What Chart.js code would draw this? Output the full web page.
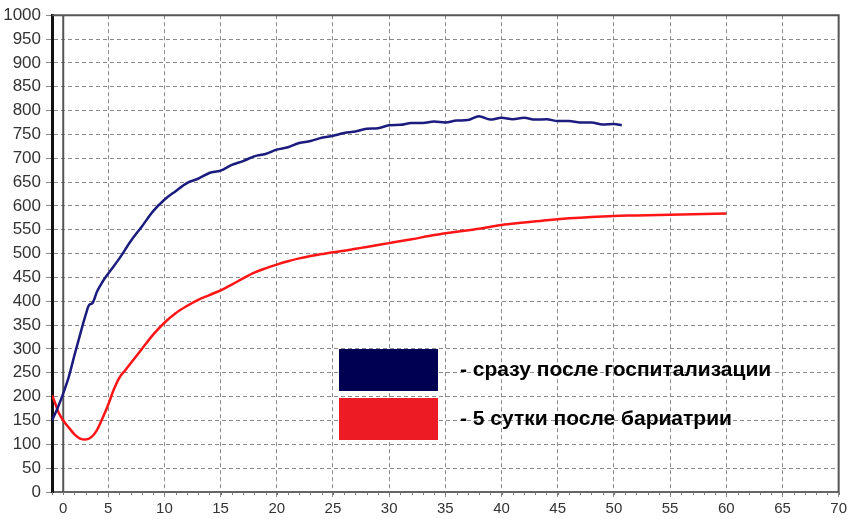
<!DOCTYPE html>
<html>
<head>
<meta charset="utf-8">
<script src="https://cdn.jsdelivr.net/npm/chart.js@4.4.1/dist/chart.umd.min.js"></script>
<style>
  html, body { margin: 0; padding: 0; background: #fff; }
  #wrap { width: 850px; height: 519px; }
</style>
</head>
<body>
<div id="wrap"><canvas id="curveChart"></canvas></div>
<script>
// значения
var blueX = [0, 0.5, 1, 1.5, 2, 2.5, 3, 3.3, 3.6, 4, 4.5, 5, 6, 7, 8, 9, 10, 11, 12, 13, 14, 15, 16, 17, 18, 19, 20,
  21, 22, 23, 24, 25, 26, 27, 28, 29, 30, 31, 32, 33, 34, 35, 36, 37, 38, 39, 40, 41, 42, 43, 44, 45, 46, 47, 48, 49, 50, 50.7];
var blueY = [150, 176, 207, 242, 287, 330, 372, 392, 396, 420, 441, 458, 490, 526, 557, 589, 613, 631, 648, 657, 669, 674, 686, 694, 704, 709, 718,
  723, 732, 736, 743, 747, 753, 756, 762, 763, 769, 770, 774, 774, 777, 775, 779, 780, 788, 781, 785, 782, 785, 781, 782, 778, 778, 775, 775, 771, 772, 769];

var redX = [0, 0.3, 0.6, 1, 1.5, 2, 2.5, 3, 3.5, 4, 4.5, 5, 5.5, 6, 6.5, 7, 8, 9, 10, 11, 12, 13, 14, 15, 16, 17, 18, 19, 20,
  21, 22, 23, 24, 25, 26, 27, 28, 29, 30, 32, 34, 36, 38, 40, 42, 44, 46, 48, 50, 52, 54, 56, 58, 60];
var redY = [203, 185, 166, 150, 135, 121, 112, 110, 115, 130, 155, 183, 215, 240, 255, 270, 300, 330, 355, 375, 390, 403, 413, 423, 435, 448, 460, 469, 477,
  484, 490, 495, 499, 503, 506, 510, 514, 518, 522, 530, 539, 546, 552, 560, 565, 570, 574, 577, 579, 580, 581, 582, 583, 584];

var seriesNames = ["- сразу после госпитализации", "- 5 сутки после бариатрии"];
var xTicks = [1, 5, 10, 15, 20, 25, 30, 35, 40, 45, 50, 55, 60, 65, 70];
var yStep = 50;

function pts(xs, ys) {
  return xs.map(function (x, i) { return { x: x, y: ys[i] }; });
}

// сплошная линия у "0", мелкие риски по оси X, легенда в поле графика
var extras = {
  id: "extras",
  beforeDatasetsDraw: function (chart) {
    var c = chart.ctx, a = chart.chartArea, xs = chart.scales.x;
    var px = xs.getPixelForValue(1);
    c.save();
    c.strokeStyle = "#555";
    c.lineWidth = 2;
    c.beginPath();
    c.moveTo(px, a.top);
    c.lineTo(px, a.bottom);
    c.stroke();
    c.strokeStyle = "#777";
    c.lineWidth = 1;
    c.beginPath();
    for (var v = 0; v <= 70; v++) {
      var p = Math.round(xs.getPixelForValue(v)) + 0.5;
      c.moveTo(p, a.bottom);
      c.lineTo(p, a.bottom + 3);
    }
    c.stroke();
    c.restore();
  },
  afterDraw: function (chart) {
    var c = chart.ctx;
    var boxes = [[339, 349], [339, 398]];
    c.save();
    chart.data.datasets.forEach(function (ds, i) {
      c.fillStyle = ds.legendColor;
      c.fillRect(boxes[i][0], boxes[i][1], 99, 42);
      c.fillStyle = "#000";
      c.font = "bold 21px 'Liberation Sans', Arial, sans-serif";
      c.textBaseline = "middle";
      c.fillText(ds.label, 460, boxes[i][1] + 21);
    });
    c.restore();
  }
};

var ctx1 = document.getElementById("curveChart");
var curveChart = new Chart(ctx1, {
  type: "line",
  data: {
    datasets: [
      {
        label: seriesNames[0],
        data: pts(blueX, blueY),
        borderColor: "#1c1c7e",
        legendColor: "#000052",
        borderWidth: 2.5,
        pointRadius: 0,
        cubicInterpolationMode: "monotone"
      },
      {
        label: seriesNames[1],
        data: pts(redX, redY),
        borderColor: "#ff1515",
        legendColor: "#ed1c24",
        borderWidth: 2.5,
        pointRadius: 0,
        cubicInterpolationMode: "monotone"
      }
    ]
  },
  options: {
    responsive: true,
    maintainAspectRatio: false,
    animation: false,
    layout: { padding: { top: 14, right: 9, left: 0, bottom: 0 } },
    plugins: { legend: { display: false }, tooltip: { enabled: false } },
    scales: {
      x: {
        type: "linear",
        min: 0,
        max: 70,
        afterBuildTicks: function (scale) {
          scale.ticks = xTicks.map(function (v) { return { value: v }; });
        },
        afterFit: function (scale) { scale.height = 27; },
        ticks: {
          color: "#333",
          padding: 3,
          maxRotation: 0,
          font: { family: "'Liberation Sans', Arial, sans-serif", size: 15 },
          callback: function (v) { return v === 1 ? "0" : String(v); }
        },
        grid: {
          color: function (c) { return c.tick && c.tick.value === 1 ? "rgba(0,0,0,0)" : "#8a8a8a"; },
          lineWidth: 1,
          tickLength: 5
        },
        border: { display: true, color: "#666", width: 2, dash: [4, 3] }
      },
      y: {
        min: 0,
        max: 1000,
        afterFit: function (scale) { scale.width = 52; },
        ticks: {
          stepSize: yStep,
          color: "#333",
          padding: 5,
          font: { family: "'Liberation Sans', Arial, sans-serif", size: 17 },
          callback: function (v) { return String(v); }
        },
        grid: { color: "#8a8a8a", lineWidth: 1, tickLength: 6 },
        border: { display: true, color: "#111", width: 3, dash: [4, 3] }
      }
    }
  },
  plugins: [extras, {
    id: "frame",
    afterDatasetsDraw: function (chart) {
      var c = chart.ctx, a = chart.chartArea;
      c.save();
      c.strokeStyle = "#555";
      c.lineWidth = 2;
      c.beginPath();
      c.moveTo(a.left, a.top);
      c.lineTo(a.right, a.top);
      c.lineTo(a.right, a.bottom);
      c.stroke();
      c.restore();
    }
  }]
});
</script>
</body>
</html>
